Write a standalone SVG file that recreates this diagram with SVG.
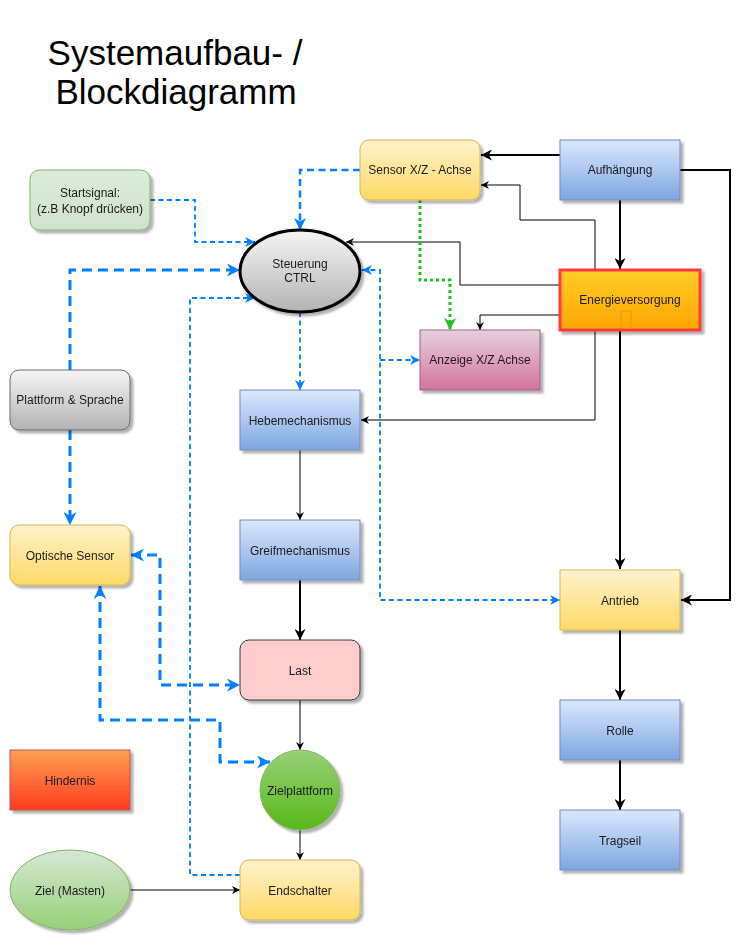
<svg xmlns="http://www.w3.org/2000/svg" width="750" height="941" viewBox="0 0 750 941">
<style>
text{font-family:"Liberation Sans",Arial,sans-serif;font-size:12px;fill:#1a1a1a;text-anchor:middle}
.title{font-size:35px;fill:#000}
.n{filter:url(#sh)}
.k1{fill:none;stroke:#000;stroke-width:1}
.k2{fill:none;stroke:#000;stroke-width:2}
.b3{fill:none;stroke:#007fff;stroke-width:3;stroke-dasharray:10 6}
.b2{fill:none;stroke:#007fff;stroke-width:2.5;stroke-dasharray:7 4.5}
.b1{fill:none;stroke:#007fff;stroke-width:1.8;stroke-dasharray:5 3.5}
.g3{fill:none;stroke:#22c022;stroke-width:3;stroke-dasharray:3 3}
</style>
<defs>
<filter id="sh" x="-20%" y="-20%" width="140%" height="140%"><feDropShadow dx="3" dy="3" stdDeviation="0.8" flood-color="#000" flood-opacity="0.3"/></filter>
<linearGradient id="gY" x1="0" y1="0" x2="0" y2="1"><stop offset="0" stop-color="#fff2cc"/><stop offset="1" stop-color="#ffd966"/></linearGradient>
<linearGradient id="gB" x1="0" y1="0" x2="0" y2="1"><stop offset="0" stop-color="#dae8fc"/><stop offset="1" stop-color="#7ea6e0"/></linearGradient>
<linearGradient id="gG" x1="0" y1="0" x2="0" y2="1"><stop offset="0" stop-color="#f5f5f5"/><stop offset="1" stop-color="#b3b3b3"/></linearGradient>
<linearGradient id="gP" x1="0" y1="0" x2="0" y2="1"><stop offset="0" stop-color="#e6d0de"/><stop offset="1" stop-color="#d5739d"/></linearGradient>
<linearGradient id="gO" x1="0" y1="0" x2="0" y2="1"><stop offset="0" stop-color="#ffcd28"/><stop offset="1" stop-color="#ffa500"/></linearGradient>
<linearGradient id="gR" x1="0" y1="0" x2="0" y2="1"><stop offset="0" stop-color="#ffa052"/><stop offset="1" stop-color="#ff3a1f"/></linearGradient>
<linearGradient id="gZ" x1="0" y1="0" x2="0" y2="1"><stop offset="0" stop-color="#97d077"/><stop offset="1" stop-color="#58b81a"/></linearGradient>
<linearGradient id="gL" x1="0" y1="0" x2="0" y2="1"><stop offset="0" stop-color="#d5e8d4"/><stop offset="1" stop-color="#97d077"/></linearGradient>
<linearGradient id="gS" x1="0" y1="0" x2="0" y2="1"><stop offset="0" stop-color="#dcecdb"/><stop offset="1" stop-color="#cde3cb"/></linearGradient>
<marker id="aK2" viewBox="0 0 10 10" refX="10" refY="5" markerWidth="11" markerHeight="11" markerUnits="userSpaceOnUse" orient="auto-start-reverse"><path d="M0,0 L10,5 L0,10 L3,5 z" fill="#000"/></marker>
<marker id="aK1" viewBox="0 0 10 10" refX="10" refY="5" markerWidth="8" markerHeight="8" markerUnits="userSpaceOnUse" orient="auto-start-reverse"><path d="M0,0 L10,5 L0,10 L3,5 z" fill="#000"/></marker>
<marker id="aB3" viewBox="0 0 10 10" refX="10" refY="5" markerWidth="13" markerHeight="13" markerUnits="userSpaceOnUse" orient="auto-start-reverse"><path d="M0,0 L10,5 L0,10 L3,5 z" fill="#007fff"/></marker>
<marker id="aB2" viewBox="0 0 10 10" refX="10" refY="5" markerWidth="12" markerHeight="12" markerUnits="userSpaceOnUse" orient="auto-start-reverse"><path d="M0,0 L10,5 L0,10 L3,5 z" fill="#007fff"/></marker>
<marker id="aB1" viewBox="0 0 10 10" refX="10" refY="5" markerWidth="10" markerHeight="10" markerUnits="userSpaceOnUse" orient="auto-start-reverse"><path d="M0,0 L10,5 L0,10 L3,5 z" fill="#007fff"/></marker>
<marker id="aG" viewBox="0 0 10 10" refX="10" refY="5" markerWidth="12" markerHeight="12" markerUnits="userSpaceOnUse" orient="auto"><path d="M0,0 L10,5 L0,10 L3,5 z" fill="#22c022"/></marker>
</defs>
<rect width="750" height="941" fill="#fff"/>
<g id="title">
<text class="title" x="175" y="65">Systemaufbau- /</text>
<text class="title" x="176" y="104">Blockdiagramm</text>
</g>
<g id="connectors">
<path class="k2" d="M560,155 H481" marker-end="url(#aK2)"/>
<path class="k1" d="M595,270 V220 H520 V185 H481" marker-end="url(#aK1)"/>
<path class="k1" d="M560,285 H460 V242 H346" marker-end="url(#aK1)"/>
<path class="k2" d="M620,200 V269" marker-end="url(#aK2)"/>
<path class="k2" d="M680,170 H730 V600 H681" marker-end="url(#aK2)"/>
<path class="k1" d="M560,315 H480 V330" marker-end="url(#aK1)"/>
<path class="k1" d="M595,330 V420 H361" marker-end="url(#aK1)"/>
<path class="k2" d="M620,331 V569" marker-end="url(#aK2)"/>
<path class="g3" d="M420,200 V280 H450 V330" marker-end="url(#aG)"/>
<path class="b2" d="M360,170 H300 V230" marker-end="url(#aB2)"/>
<path class="b1" d="M150,200 H195 V242 H255" marker-end="url(#aB1)"/>
<path class="b3" d="M70,370 V270 H240" marker-end="url(#aB3)"/>
<path class="b3" d="M70,430 V525" marker-end="url(#aB3)"/>
<path class="b1" d="M240,875 H190 V298 H255" marker-end="url(#aB1)"/>
<path class="b1" d="M300,312 V390" marker-end="url(#aB1)"/>
<path class="b1" d="M362,270 H380 V600 H560" marker-start="url(#aB1)" marker-end="url(#aB1)"/>
<path class="b1" d="M380,360 H420" marker-end="url(#aB1)"/>
<path class="k1" d="M300,450 V520" marker-end="url(#aK1)"/>
<path class="k2" d="M300,580 V640" marker-end="url(#aK2)"/>
<path class="k1" d="M300,700 V750" marker-end="url(#aK1)"/>
<path class="k1" d="M300,830 V860" marker-end="url(#aK1)"/>
<path class="k1" d="M130,890 H240" marker-end="url(#aK1)"/>
<path class="b3" d="M131,555 H160 V685 H240" marker-start="url(#aB3)" marker-end="url(#aB3)"/>
<path class="b3" d="M100,586 V720 H220 V762 H270" marker-start="url(#aB3)" marker-end="url(#aB3)"/>
<path class="k2" d="M620,630 V700" marker-end="url(#aK2)"/>
<path class="k2" d="M620,760 V810" marker-end="url(#aK2)"/>
</g>
<g id="sensor-xz" class="n"><rect x="360" y="140" width="120" height="60" rx="9" fill="url(#gY)" stroke="#d6b656"/><text x="420" y="174">Sensor X/Z - Achse</text></g>
<g id="aufhaengung" class="n"><rect x="560" y="140" width="120" height="60" fill="url(#gB)" stroke="#6c8ebf"/><text x="620" y="174">Aufhängung</text></g>
<g id="startsignal" class="n"><rect x="30" y="170" width="120" height="60" rx="9" fill="url(#gS)" stroke="#82b366"/><text x="90" y="197">Startsignal:</text><text x="90" y="213">(z.B Knopf drücken)</text></g>
<g id="steuerung" class="n"><ellipse cx="300" cy="271" rx="60" ry="41" fill="url(#gG)" stroke="#000" stroke-width="3"/><text x="300" y="268">Steuerung</text><text x="300" y="282">CTRL</text></g>
<g id="energieversorgung" class="n"><rect x="560" y="270" width="140" height="60" fill="url(#gO)" stroke="#ff3b3b" stroke-width="3"/><text x="630" y="304">Energieversorgung</text><rect x="621" y="311" width="10" height="17" fill="none" stroke="#e0a000" stroke-width="1"/></g>
<g id="anzeige" class="n"><rect x="420" y="330" width="120" height="60" fill="url(#gP)" stroke="#996185"/><text x="480" y="364">Anzeige X/Z Achse</text></g>
<g id="plattform" class="n"><rect x="10" y="370" width="120" height="60" rx="9" fill="url(#gG)" stroke="#666666"/><text x="70" y="404">Plattform &amp; Sprache</text></g>
<g id="hebemechanismus" class="n"><rect x="240" y="390" width="120" height="60" fill="url(#gB)" stroke="#6c8ebf"/><text x="300" y="425">Hebemechanismus</text></g>
<g id="optische-sensor" class="n"><rect x="10" y="525" width="120" height="60" rx="9" fill="url(#gY)" stroke="#d6b656"/><text x="70" y="560">Optische Sensor</text></g>
<g id="greifmechanismus" class="n"><rect x="240" y="520" width="120" height="60" fill="url(#gB)" stroke="#6c8ebf"/><text x="300" y="555">Greifmechanismus</text></g>
<g id="antrieb" class="n"><rect x="560" y="570" width="120" height="60" fill="url(#gY)" stroke="#d6b656"/><text x="620" y="605">Antrieb</text></g>
<g id="last" class="n"><rect x="240" y="640" width="120" height="60" rx="9" fill="#ffcccc" stroke="#36393d"/><text x="300" y="675">Last</text></g>
<g id="rolle" class="n"><rect x="560" y="700" width="120" height="60" fill="url(#gB)" stroke="#6c8ebf"/><text x="620" y="735">Rolle</text></g>
<g id="hindernis" class="n"><rect x="10" y="750" width="120" height="60" fill="url(#gR)" stroke="#b85450"/><text x="70" y="785">Hindernis</text></g>
<g id="zielplattform" class="n"><circle cx="300" cy="790" r="40" fill="url(#gZ)" stroke="#82b366"/><text x="300" y="795">Zielplattform</text></g>
<g id="tragseil" class="n"><rect x="560" y="810" width="120" height="60" fill="url(#gB)" stroke="#6c8ebf"/><text x="620" y="845">Tragseil</text></g>
<g id="ziel-masten" class="n"><ellipse cx="70" cy="890" rx="60" ry="40" fill="url(#gL)" stroke="#82b366"/><text x="70" y="895">Ziel (Masten)</text></g>
<g id="endschalter" class="n"><rect x="240" y="860" width="120" height="60" rx="9" fill="url(#gY)" stroke="#d6b656"/><text x="300" y="895">Endschalter</text></g>
</svg>
